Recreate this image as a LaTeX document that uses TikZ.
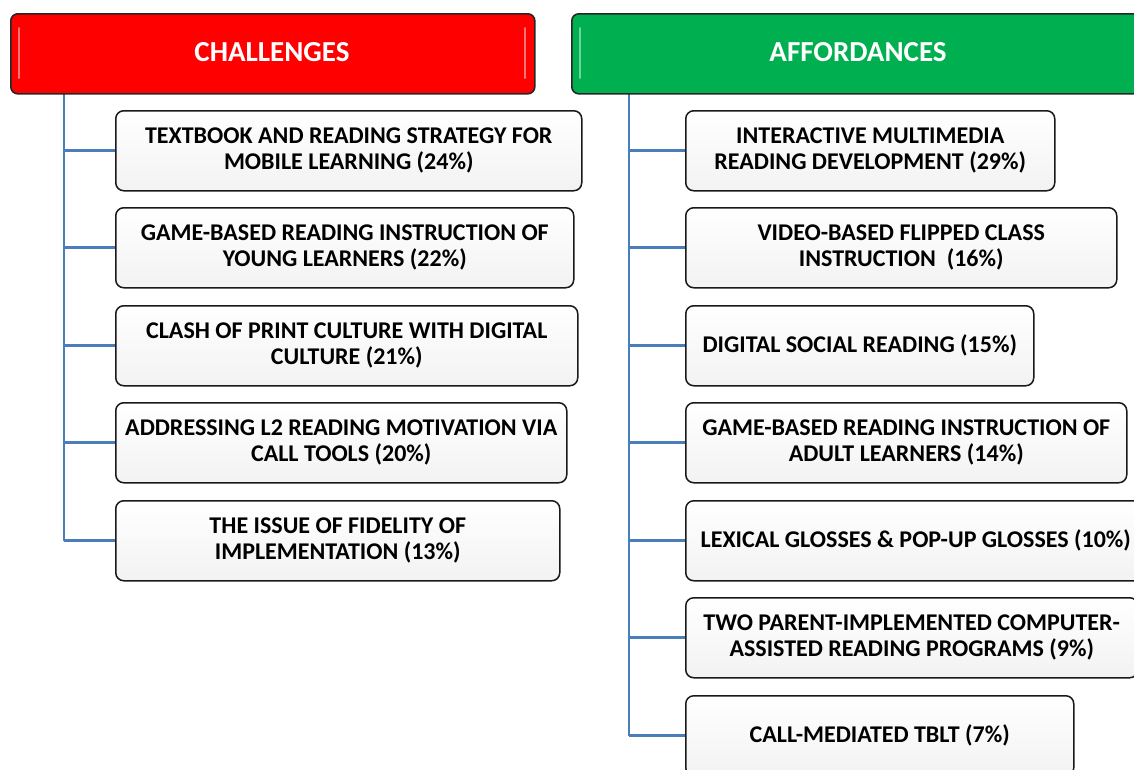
\documentclass[tikz,border=0pt]{standalone}
\usepackage{fontspec}
\setmainfont{Carlito}
\usetikzlibrary{positioning}
\definecolor{hdred}{RGB}{255,0,0}
\definecolor{hdgreen}{RGB}{0,176,80}
\definecolor{linkblue}{RGB}{74,126,187}
\tikzset{
  header/.style={draw=black!85, line width=1.6pt, rounded corners=7pt, minimum height=80pt, anchor=north west, inner sep=0pt},
  headtext/.style={text=white, font=\bfseries\fontsize{29}{34}\selectfont},
  itembox/.style={draw=black!90, line width=1.5pt, rounded corners=8pt, minimum height=80pt, anchor=north west, top color=white, bottom color=black!5, align=center, font=\bfseries\fontsize{24}{26}\selectfont, inner sep=0pt},
  link/.style={draw=linkblue, line width=2.6pt},
  gloss/.style={white, opacity=0.45, line width=2pt, line cap=round}
}
\begin{document}
\begin{tikzpicture}[x=1pt,y=-1pt]
\useasboundingbox (0,0) rectangle (1134,769);
\clip (0,0) rectangle (1134,769);
% trunks first (behind boxes)
\coordinate (lt) at (64,93);
\coordinate (rt) at (629,93);
\draw[link] (64,93) -- (64,541);
\draw[link] (629,93) -- (629,736);
% headers
\node[header, fill=hdred, minimum width=524pt] (chal) at (10,13) {};
\node[headtext] (chalt) at (272,52) {CHALLENGES};
\draw[gloss] (19,28) -- (19,78);
\draw[gloss] (525,28) -- (525,78);
\node[header, fill=hdgreen, minimum width=590pt] (aff) at (571,13) {};
\node[headtext] (afft) at (858,52) {AFFORDANCES};
\draw[gloss] (580,28) -- (580,78);
% left items
\node[itembox, minimum width=466pt] (c1) at (115,110) {TEXTBOOK AND READING STRATEGY FOR\\MOBILE LEARNING (24\%)};
\node[itembox, minimum width=458pt] (c2) at (115,207) {GAME-BASED READING INSTRUCTION OF\\YOUNG LEARNERS (22\%)};
\node[itembox, minimum width=462pt] (c3) at (115,305) {CLASH OF PRINT CULTURE WITH DIGITAL\\CULTURE (21\%)};
\node[itembox, minimum width=451pt] (c4) at (115,402) {ADDRESSING L2 READING MOTIVATION VIA\\CALL TOOLS (20\%)};
\node[itembox, minimum width=444pt] (c5) at (115,500) {THE ISSUE OF FIDELITY OF\\IMPLEMENTATION (13\%)};
% right items
\node[itembox, minimum width=369pt] (a1) at (685,110) {INTERACTIVE MULTIMEDIA\\READING DEVELOPMENT (29\%)};
\node[itembox, minimum width=431pt] (a2) at (685,207) {VIDEO-BASED FLIPPED CLASS\\INSTRUCTION\ \ (16\%)};
\node[itembox, minimum width=348pt] (a3) at (685,305) {DIGITAL SOCIAL READING (15\%)};
\node[itembox, minimum width=441pt] (a4) at (685,402) {GAME-BASED READING INSTRUCTION OF\\ADULT LEARNERS (14\%)};
\node[itembox, minimum width=460pt] (a5) at (685,500) {LEXICAL GLOSSES \& POP-UP GLOSSES (10\%)};
\node[itembox, minimum width=452pt] (a6) at (685,597) {TWO PARENT-IMPLEMENTED COMPUTER-\\ASSISTED READING PROGRAMS (9\%)};
\node[itembox, minimum width=388pt] (a7) at (685,695) {CALL-MEDIATED TBLT (7\%)};
% branches
\foreach \n in {c1,c2,c3,c4,c5}{
  \draw[link] (\n.west) -- (\n.west -| lt);
}
\foreach \n in {a1,a2,a3,a4,a5,a6,a7}{
  \draw[link] (\n.west) -- (\n.west -| rt);
}
\end{tikzpicture}
\end{document}
